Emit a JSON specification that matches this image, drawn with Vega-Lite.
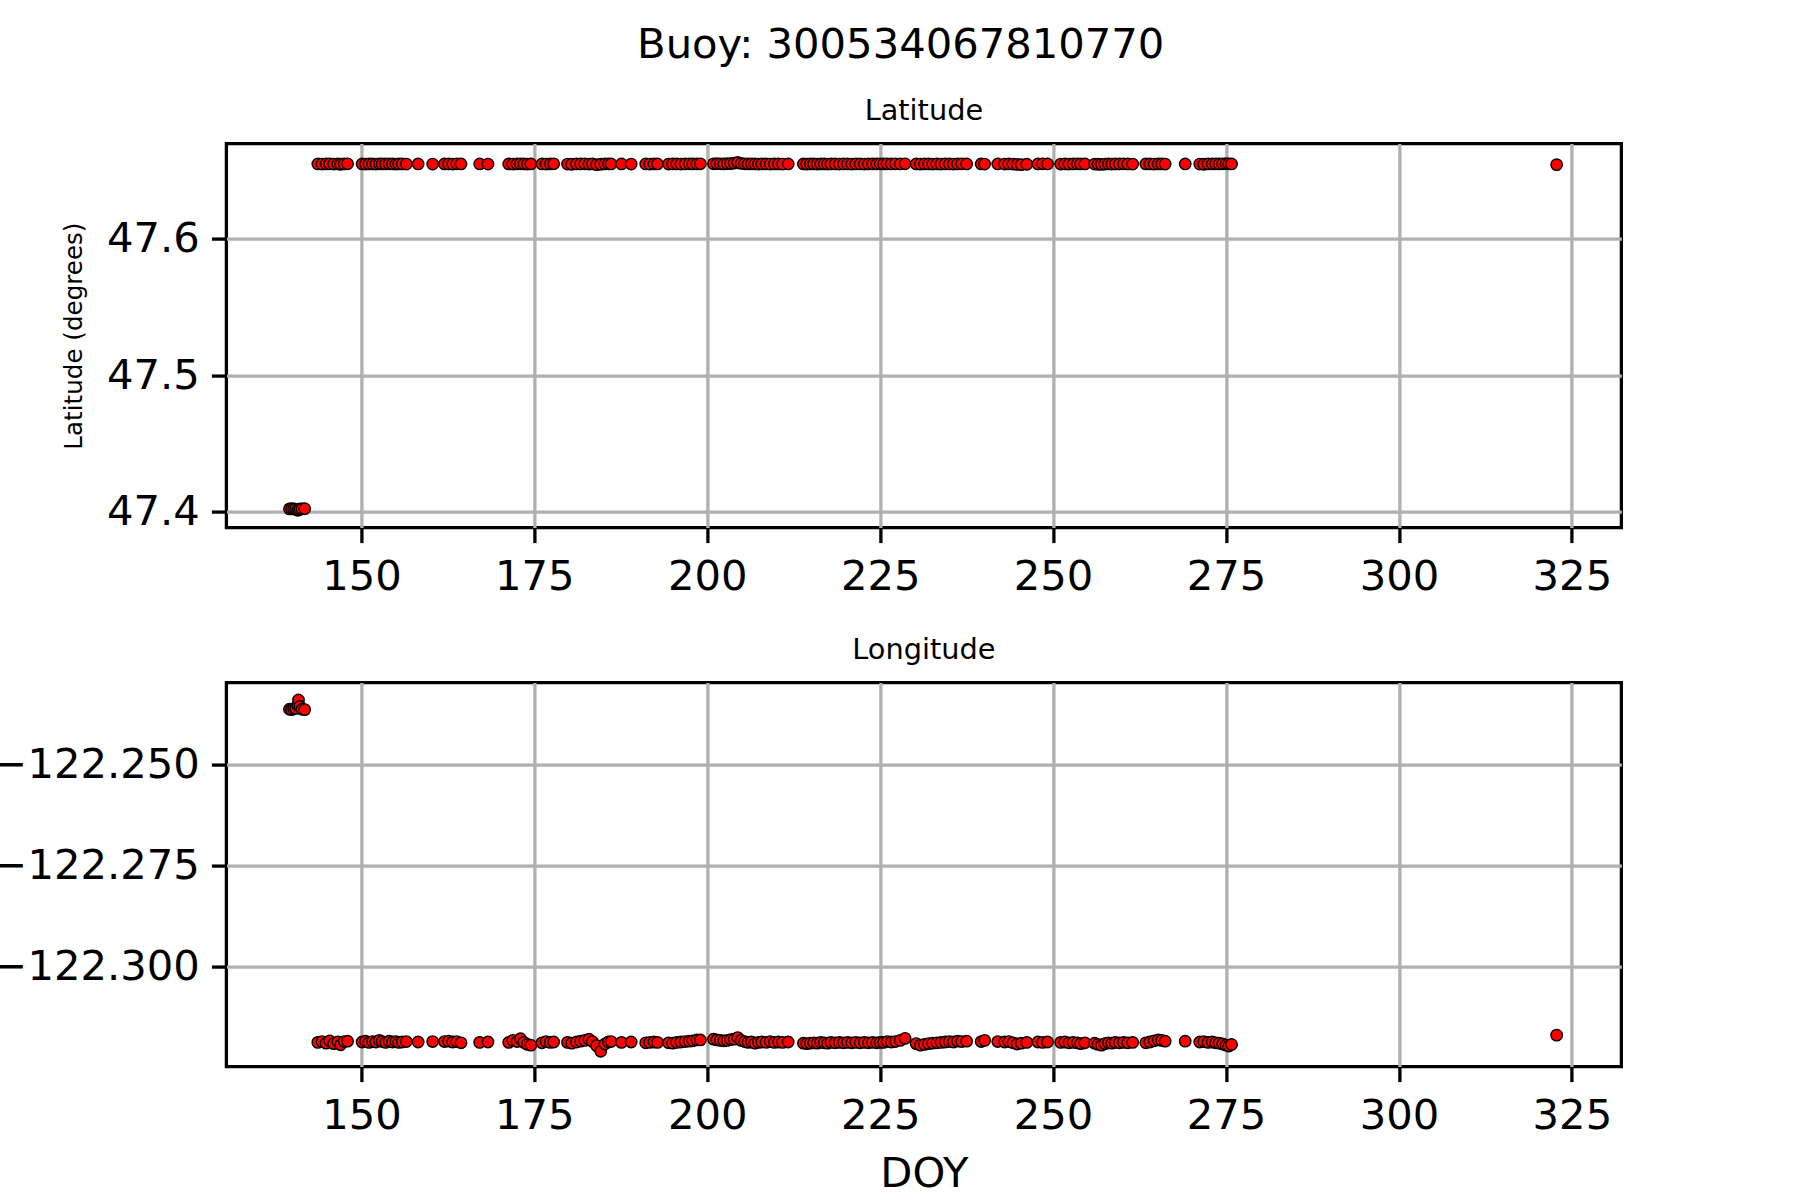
{
  "$schema": "https://vega.github.io/schema/vega-lite/v6.json",
  "padding": {"left": -9.6, "top": 24.6, "right": 0, "bottom": 0},
  "background": "white",
  "title": {"text": "Buoy: 300534067810770", "font": "DejaVu Sans", "fontSize": 41.7, "fontWeight": "normal", "color": "black", "anchor": "middle", "offset": 29, "dx": 94},
  "datasets": {
    "buoy": [
      {"doy": 139.6, "lat": 47.4022, "lon": -122.2362},
      {"doy": 139.9, "lat": 47.4023, "lon": -122.2363},
      {"doy": 140.2, "lat": 47.4022, "lon": -122.2361},
      {"doy": 140.5, "lat": 47.402, "lon": -122.236},
      {"doy": 140.8, "lat": 47.4012, "lon": -122.2352},
      {"doy": 140.9, "lat": 47.4016, "lon": -122.2339},
      {"doy": 141.1, "lat": 47.4021, "lon": -122.2355},
      {"doy": 141.4, "lat": 47.4022, "lon": -122.2362},
      {"doy": 141.8, "lat": 47.4023, "lon": -122.2363},
      {"doy": 143.7, "lat": 47.6546, "lon": -122.3188},
      {"doy": 144.3, "lat": 47.6545, "lon": -122.3186},
      {"doy": 144.9, "lat": 47.6546, "lon": -122.319},
      {"doy": 145.4, "lat": 47.6547, "lon": -122.3184},
      {"doy": 146.0, "lat": 47.6545, "lon": -122.3191},
      {"doy": 146.6, "lat": 47.6546, "lon": -122.3187},
      {"doy": 147.0, "lat": 47.6544, "lon": -122.3194},
      {"doy": 147.5, "lat": 47.6546, "lon": -122.3186},
      {"doy": 148.0, "lat": 47.6547, "lon": -122.3185},
      {"doy": 150.1, "lat": 47.6546, "lon": -122.3187},
      {"doy": 150.6, "lat": 47.6545, "lon": -122.3185},
      {"doy": 151.1, "lat": 47.6546, "lon": -122.3188},
      {"doy": 151.6, "lat": 47.6546, "lon": -122.3186},
      {"doy": 152.1, "lat": 47.6545, "lon": -122.3187},
      {"doy": 152.6, "lat": 47.6547, "lon": -122.3183},
      {"doy": 153.0, "lat": 47.6546, "lon": -122.3186},
      {"doy": 153.5, "lat": 47.6546, "lon": -122.3188},
      {"doy": 154.0, "lat": 47.6547, "lon": -122.3185},
      {"doy": 154.5, "lat": 47.6546, "lon": -122.3187},
      {"doy": 155.0, "lat": 47.6545, "lon": -122.3186},
      {"doy": 155.4, "lat": 47.6546, "lon": -122.3188},
      {"doy": 155.9, "lat": 47.6546, "lon": -122.3187},
      {"doy": 156.5, "lat": 47.6545, "lon": -122.3186},
      {"doy": 158.2, "lat": 47.6546, "lon": -122.3187},
      {"doy": 160.3, "lat": 47.6545, "lon": -122.3186},
      {"doy": 162.0, "lat": 47.6546, "lon": -122.3186},
      {"doy": 162.6, "lat": 47.6546, "lon": -122.3185},
      {"doy": 163.2, "lat": 47.6545, "lon": -122.3187},
      {"doy": 163.8, "lat": 47.6547, "lon": -122.3186},
      {"doy": 164.4, "lat": 47.6546, "lon": -122.3189},
      {"doy": 167.1, "lat": 47.6546, "lon": -122.3188},
      {"doy": 168.3, "lat": 47.6545, "lon": -122.3187},
      {"doy": 171.3, "lat": 47.6546, "lon": -122.3188},
      {"doy": 171.9, "lat": 47.6545, "lon": -122.3183},
      {"doy": 172.5, "lat": 47.6546, "lon": -122.3186},
      {"doy": 173.0, "lat": 47.6547, "lon": -122.3179},
      {"doy": 173.5, "lat": 47.6546, "lon": -122.3188},
      {"doy": 174.0, "lat": 47.6545, "lon": -122.3193},
      {"doy": 174.5, "lat": 47.6546, "lon": -122.3195},
      {"doy": 176.1, "lat": 47.6546, "lon": -122.3189},
      {"doy": 176.7, "lat": 47.6545, "lon": -122.3186},
      {"doy": 177.3, "lat": 47.6546, "lon": -122.3188},
      {"doy": 177.8, "lat": 47.6547, "lon": -122.3187},
      {"doy": 179.8, "lat": 47.6545, "lon": -122.3188},
      {"doy": 180.4, "lat": 47.6544, "lon": -122.319},
      {"doy": 181.1, "lat": 47.6546, "lon": -122.3187},
      {"doy": 181.7, "lat": 47.6546, "lon": -122.3185},
      {"doy": 182.3, "lat": 47.6547, "lon": -122.3183},
      {"doy": 182.9, "lat": 47.6545, "lon": -122.318},
      {"doy": 183.4, "lat": 47.6546, "lon": -122.3186},
      {"doy": 184.0, "lat": 47.6541, "lon": -122.3196},
      {"doy": 184.6, "lat": 47.6544, "lon": -122.321},
      {"doy": 185.2, "lat": 47.6546, "lon": -122.3192},
      {"doy": 185.7, "lat": 47.6547, "lon": -122.3187},
      {"doy": 186.1, "lat": 47.6546, "lon": -122.3186},
      {"doy": 187.6, "lat": 47.6546, "lon": -122.3188},
      {"doy": 189.0, "lat": 47.6545, "lon": -122.3187},
      {"doy": 191.1, "lat": 47.6546, "lon": -122.3189},
      {"doy": 191.7, "lat": 47.6545, "lon": -122.3188},
      {"doy": 192.3, "lat": 47.6546, "lon": -122.3187},
      {"doy": 192.8, "lat": 47.6546, "lon": -122.3188},
      {"doy": 194.4, "lat": 47.6545, "lon": -122.3189},
      {"doy": 195.0, "lat": 47.6546, "lon": -122.319},
      {"doy": 195.6, "lat": 47.6546, "lon": -122.3188},
      {"doy": 196.2, "lat": 47.6545, "lon": -122.3187},
      {"doy": 196.8, "lat": 47.6546, "lon": -122.3186},
      {"doy": 197.4, "lat": 47.6547, "lon": -122.3185},
      {"doy": 197.9, "lat": 47.6546, "lon": -122.3184},
      {"doy": 198.5, "lat": 47.6546, "lon": -122.3182},
      {"doy": 199.0, "lat": 47.6547, "lon": -122.3182},
      {"doy": 200.9, "lat": 47.6547, "lon": -122.318},
      {"doy": 201.4, "lat": 47.6548, "lon": -122.3182},
      {"doy": 201.9, "lat": 47.6547, "lon": -122.3183},
      {"doy": 202.4, "lat": 47.6546, "lon": -122.3184},
      {"doy": 202.9, "lat": 47.6548, "lon": -122.3183},
      {"doy": 203.4, "lat": 47.6549, "lon": -122.3181},
      {"doy": 203.9, "lat": 47.6552, "lon": -122.318},
      {"doy": 204.4, "lat": 47.6557, "lon": -122.3176},
      {"doy": 204.9, "lat": 47.655, "lon": -122.3183},
      {"doy": 205.4, "lat": 47.6547, "lon": -122.3186},
      {"doy": 205.9, "lat": 47.6546, "lon": -122.3188},
      {"doy": 206.4, "lat": 47.6547, "lon": -122.3187},
      {"doy": 206.9, "lat": 47.6546, "lon": -122.319},
      {"doy": 207.4, "lat": 47.6545, "lon": -122.3188},
      {"doy": 207.9, "lat": 47.6546, "lon": -122.3187},
      {"doy": 208.5, "lat": 47.6546, "lon": -122.3188},
      {"doy": 209.1, "lat": 47.6545, "lon": -122.3186},
      {"doy": 209.7, "lat": 47.6546, "lon": -122.3188},
      {"doy": 210.3, "lat": 47.6546, "lon": -122.3187},
      {"doy": 210.9, "lat": 47.6545, "lon": -122.3188},
      {"doy": 211.7, "lat": 47.6546, "lon": -122.3187},
      {"doy": 213.9, "lat": 47.6546, "lon": -122.319},
      {"doy": 214.4, "lat": 47.6545, "lon": -122.3191},
      {"doy": 214.9, "lat": 47.6546, "lon": -122.319},
      {"doy": 215.4, "lat": 47.6546, "lon": -122.3189},
      {"doy": 215.9, "lat": 47.6545, "lon": -122.319},
      {"doy": 216.4, "lat": 47.6546, "lon": -122.3188},
      {"doy": 216.9, "lat": 47.6546, "lon": -122.3189},
      {"doy": 217.4, "lat": 47.6545, "lon": -122.319},
      {"doy": 217.9, "lat": 47.6546, "lon": -122.3188},
      {"doy": 218.5, "lat": 47.6546, "lon": -122.3189},
      {"doy": 219.1, "lat": 47.6545, "lon": -122.3188},
      {"doy": 219.7, "lat": 47.6546, "lon": -122.3189},
      {"doy": 220.3, "lat": 47.6546, "lon": -122.3188},
      {"doy": 220.9, "lat": 47.6545, "lon": -122.3189},
      {"doy": 221.5, "lat": 47.6546, "lon": -122.3188},
      {"doy": 222.1, "lat": 47.6546, "lon": -122.3189},
      {"doy": 222.7, "lat": 47.6545, "lon": -122.3188},
      {"doy": 223.3, "lat": 47.6546, "lon": -122.3189},
      {"doy": 223.9, "lat": 47.6546, "lon": -122.3188},
      {"doy": 224.5, "lat": 47.6546, "lon": -122.3189},
      {"doy": 225.0, "lat": 47.6547, "lon": -122.3188},
      {"doy": 225.5, "lat": 47.6546, "lon": -122.3188},
      {"doy": 226.0, "lat": 47.6547, "lon": -122.3186},
      {"doy": 226.6, "lat": 47.6546, "lon": -122.3187},
      {"doy": 227.2, "lat": 47.6547, "lon": -122.3186},
      {"doy": 227.9, "lat": 47.6546, "lon": -122.3183},
      {"doy": 228.6, "lat": 47.6547, "lon": -122.3178},
      {"doy": 230.2, "lat": 47.6546, "lon": -122.3191},
      {"doy": 230.8, "lat": 47.6545, "lon": -122.3195},
      {"doy": 231.4, "lat": 47.6546, "lon": -122.3193},
      {"doy": 232.0, "lat": 47.6546, "lon": -122.3191},
      {"doy": 232.6, "lat": 47.6545, "lon": -122.319},
      {"doy": 233.2, "lat": 47.6546, "lon": -122.3189},
      {"doy": 233.8, "lat": 47.6545, "lon": -122.3188},
      {"doy": 234.4, "lat": 47.6546, "lon": -122.3187},
      {"doy": 235.0, "lat": 47.6546, "lon": -122.3186},
      {"doy": 235.6, "lat": 47.6545, "lon": -122.3187},
      {"doy": 236.2, "lat": 47.6546, "lon": -122.3185},
      {"doy": 236.8, "lat": 47.6547, "lon": -122.3186},
      {"doy": 237.5, "lat": 47.6546, "lon": -122.3185},
      {"doy": 239.6, "lat": 47.6546, "lon": -122.3186},
      {"doy": 240.1, "lat": 47.6545, "lon": -122.3183},
      {"doy": 242.0, "lat": 47.6546, "lon": -122.3186},
      {"doy": 243.0, "lat": 47.6545, "lon": -122.3187},
      {"doy": 243.6, "lat": 47.6546, "lon": -122.3186},
      {"doy": 244.2, "lat": 47.6545, "lon": -122.3189},
      {"doy": 244.8, "lat": 47.6543, "lon": -122.3192},
      {"doy": 245.4, "lat": 47.6541, "lon": -122.319},
      {"doy": 246.2, "lat": 47.6544, "lon": -122.3188},
      {"doy": 247.8, "lat": 47.6546, "lon": -122.3187},
      {"doy": 248.5, "lat": 47.6547, "lon": -122.3188},
      {"doy": 249.2, "lat": 47.6546, "lon": -122.3187},
      {"doy": 251.1, "lat": 47.6545, "lon": -122.3188},
      {"doy": 251.7, "lat": 47.6546, "lon": -122.3187},
      {"doy": 252.3, "lat": 47.6545, "lon": -122.3189},
      {"doy": 252.9, "lat": 47.6546, "lon": -122.3188},
      {"doy": 253.5, "lat": 47.6547, "lon": -122.3189},
      {"doy": 254.0, "lat": 47.6546, "lon": -122.3191},
      {"doy": 254.6, "lat": 47.6546, "lon": -122.3189},
      {"doy": 256.0, "lat": 47.6545, "lon": -122.319},
      {"doy": 256.5, "lat": 47.6544, "lon": -122.3193},
      {"doy": 257.0, "lat": 47.6543, "lon": -122.3195},
      {"doy": 257.5, "lat": 47.6545, "lon": -122.3191},
      {"doy": 258.0, "lat": 47.6546, "lon": -122.3189},
      {"doy": 258.5, "lat": 47.6545, "lon": -122.319},
      {"doy": 259.0, "lat": 47.6546, "lon": -122.3188},
      {"doy": 259.6, "lat": 47.6546, "lon": -122.3189},
      {"doy": 260.2, "lat": 47.6547, "lon": -122.3188},
      {"doy": 260.8, "lat": 47.6546, "lon": -122.3189},
      {"doy": 261.5, "lat": 47.6545, "lon": -122.3188},
      {"doy": 263.4, "lat": 47.6546, "lon": -122.3189},
      {"doy": 264.0, "lat": 47.6546, "lon": -122.3187},
      {"doy": 264.6, "lat": 47.6545, "lon": -122.3184},
      {"doy": 265.2, "lat": 47.6546, "lon": -122.3182},
      {"doy": 265.7, "lat": 47.6546, "lon": -122.3183},
      {"doy": 266.2, "lat": 47.6545, "lon": -122.3185},
      {"doy": 269.1, "lat": 47.6546, "lon": -122.3185},
      {"doy": 271.2, "lat": 47.6545, "lon": -122.3187},
      {"doy": 271.8, "lat": 47.6544, "lon": -122.3186},
      {"doy": 272.4, "lat": 47.6546, "lon": -122.3188},
      {"doy": 273.0, "lat": 47.6546, "lon": -122.3187},
      {"doy": 273.5, "lat": 47.6547, "lon": -122.3189},
      {"doy": 274.0, "lat": 47.6546, "lon": -122.319},
      {"doy": 274.5, "lat": 47.6547, "lon": -122.3192},
      {"doy": 275.0, "lat": 47.6548, "lon": -122.3195},
      {"doy": 275.4, "lat": 47.6547, "lon": -122.3197},
      {"doy": 275.8, "lat": 47.6546, "lon": -122.3193},
      {"doy": 322.8, "lat": 47.6541, "lon": -122.317}
    ]
  },
  "spacing": 155,
  "bounds": "flush",
  "vconcat": [
    {
      "width": 1395,
      "height": 384,
      "data": {"name": "buoy"},
      "title": {"text": "Latitude", "fontSize": 28.8, "offset": 17.5},
      "mark": {"type": "point", "filled": true, "shape": "circle", "fill": "#ff0000", "stroke": "black", "strokeWidth": 1.4, "size": 130, "opacity": 1},
      "encoding": {
        "x": {"field": "doy", "type": "quantitative", "scale": {"domain": [130.48, 332.16], "nice": false, "zero": false},
              "axis": {"values": [150, 175, 200, 225, 250, 275, 300, 325], "title": null, "labelPadding": 14}},
        "y": {"field": "lat", "type": "quantitative", "scale": {"domain": [47.3885, 47.6695], "nice": false, "zero": false},
              "axis": {"values": [47.4, 47.5, 47.6], "format": ".1f", "title": "Latitude (degrees)", "titleFontSize": 24.6, "titlePadding": 20}}
      }
    },
    {
      "width": 1395,
      "height": 384,
      "data": {"name": "buoy"},
      "title": {"text": "Longitude", "fontSize": 28.8, "offset": 17.5},
      "mark": {"type": "point", "filled": true, "shape": "circle", "fill": "#ff0000", "stroke": "black", "strokeWidth": 1.4, "size": 130, "opacity": 1},
      "encoding": {
        "x": {"field": "doy", "type": "quantitative", "scale": {"domain": [130.48, 332.16], "nice": false, "zero": false},
              "axis": {"values": [150, 175, 200, 225, 250, 275, 300, 325], "title": "DOY", "titleFontSize": 41.7, "titlePadding": 16.5, "labelPadding": 14}},
        "y": {"field": "lon", "type": "quantitative", "scale": {"domain": [-122.3248, -122.2296], "nice": false, "zero": false},
              "axis": {"values": [-122.3, -122.275, -122.25], "format": ".3f", "title": null}}
      }
    }
  ],
  "config": {
    "font": "DejaVu Sans",
    "view": {"stroke": "black", "strokeWidth": 3.3},
    "title": {"font": "DejaVu Sans", "fontWeight": "normal", "color": "black"},
    "axis": {
      "labelFont": "DejaVu Sans", "labelFontSize": 41.7, "labelColor": "black", "labelLimit": 0,
      "titleFont": "DejaVu Sans", "titleFontWeight": "normal", "titleColor": "black",
      "tickColor": "black", "tickSize": 15, "tickWidth": 3.3,
      "gridColor": "#b0b0b0", "gridWidth": 3.3, "gridOpacity": 1,
      "domain": false, "labelPadding": 12, "labelFlush": false, "labelOverlap": false
    }
  }
}
